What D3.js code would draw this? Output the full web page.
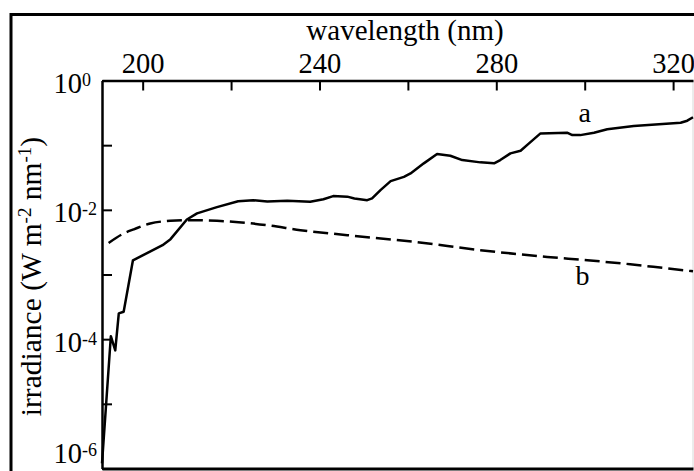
<!DOCTYPE html>
<html><head><meta charset="utf-8">
<script src="https://cdn.jsdelivr.net/npm/d3@7"></script>
<style>
body{margin:0;background:#fff}
svg{display:block}
text{font-family:"Liberation Serif","Times New Roman",serif;fill:#000}
</style>
</head><body>
<svg id="c" width="694" height="471"></svg>
<script>
// ---- data ----
const curveAWavelength = [190.8,192.8,193.8,194.6,195.7,197.8,201.1,204.5,206.3,210.0,212.3,216.8,221.6,225.0,228.2,232.7,237.9,240.9,243.1,246.3,247.9,250.8,251.9,253.8,256.1,259.1,260.6,263.6,266.6,269.6,272.3,276.4,279.5,280.9,283.2,285.5,287.4,290.0,296.0,297.2,299.0,302.1,305.1,311.1,321.7,323.2,324.5];
const curveAIrradiance = [1.2e-6,1.11e-4,6.7e-5,2.5e-4,2.65e-4,1.66e-3,2.16e-3,2.84e-3,3.52e-3,7.1e-3,8.8e-3,0.0110,0.0136,0.0141,0.0134,0.0138,0.0133,0.0146,0.0163,0.0160,0.0150,0.0141,0.0150,0.0202,0.0278,0.0324,0.0366,0.0523,0.0728,0.0686,0.0588,0.0542,0.0523,0.0588,0.0746,0.0819,0.1067,0.152,0.156,0.143,0.143,0.156,0.176,0.198,0.222,0.239,0.27];
const curveBWavelength = [192.3,195.7,198.0,201.7,206.3,210.8,216.8,221.7,228.1,235.7,246.3,261.4,276.4,291.5,300.6,310.3,317.9,324.5];
const curveBIrradiance = [3.08e-3,4.31e-3,5.0e-3,6.15e-3,6.76e-3,6.93e-3,6.76e-3,6.45e-3,5.79e-3,4.85e-3,4.06e-3,3.2e-3,2.38e-3,1.87e-3,1.66e-3,1.44e-3,1.26e-3,1.12e-3];
const xTickValues = [200,220,240,260,280,300,320];
const xTickLabels = ["200","","240","","280","","320"];
const yTickValues = [1,1e-1,1e-2,1e-3,1e-4,1e-5,1e-6];
const yTickExponents = ["0","","-2","","-4","","-6"];
const xTitle = "wavelength (nm)";
const curveLabels = ["a","b"];

// ---- layout ----
const L = 102, R = 693, T = 80.5, B = 468.5;
const svg = d3.select("#c");

const x = d3.scaleLinear().domain([190.8, 324.5]).range([L, R]);
const y = d3.scaleLog().domain([1e-6, 1]).range([B, T]);

// outer frame
svg.append("rect").attr("x", 11).attr("y", 14.5).attr("width", 800).attr("height", 600)
  .attr("fill", "none").attr("stroke", "#000").attr("stroke-width", 3);

// right faint edge
svg.append("line").attr("x1", R).attr("x2", R).attr("y1", T).attr("y2", B)
  .attr("stroke", "#d8d8d8").attr("stroke-width", 1);

// top axis
const xAxis = d3.axisTop(x).tickValues(xTickValues)
  .tickFormat((d, i) => xTickLabels[i]).tickSize(-10).tickSizeOuter(0).tickPadding(7.5);
const gx = svg.append("g").attr("transform", `translate(0,${T})`).call(xAxis);
gx.select(".domain").attr("stroke-width", 2.5);
gx.selectAll(".tick line").attr("stroke-width", 2);
gx.selectAll("text").attr("font-size", 28.5).attr("font-family", '"Liberation Serif",serif').attr("fill", "#000");

// bottom axis line
const gb = svg.append("g").attr("transform", `translate(0,${B})`)
  .call(d3.axisBottom(x).tickValues([]).tickSizeOuter(0));
gb.select(".domain").attr("stroke-width", 3);

// left axis
const yAxis = d3.axisLeft(y).tickValues(yTickValues).tickFormat("").tickSize(-10).tickSizeOuter(0);
const gy = svg.append("g").attr("transform", `translate(${L},0)`).call(yAxis);
gy.select(".domain").attr("stroke-width", 2.5);
gy.selectAll(".tick line").attr("stroke-width", 2);
gy.selectAll(".tick").each(function(d, i) {
  const exp = yTickExponents[i];
  if (!exp) return;
  const g = d3.select(this);
  const dy = (i === yTickValues.length - 1) ? -6 : 12;
  g.append("text").attr("x", -20).attr("y", dy).attr("text-anchor", "end")
    .attr("font-size", 28.5).text("10");
  g.append("text").attr("x", -20).attr("y", dy - 7).attr("text-anchor", "start")
    .attr("font-size", 18).text(exp);
});

// axis titles
svg.append("text").attr("x", 405).attr("y", 40).attr("text-anchor", "middle")
  .attr("font-size", 29).text(xTitle);

const yt = svg.append("text").attr("transform", `translate(41,${(T + B) / 2 + 2}) rotate(-90)`)
  .attr("text-anchor", "middle").attr("font-size", 29.5);
yt.append("tspan").text("irradiance (W m");
yt.append("tspan").attr("font-size", 19).attr("dy", -10).text("-2");
yt.append("tspan").attr("dy", 10).text(" nm");
yt.append("tspan").attr("font-size", 19).attr("dy", -10).text("-1");
yt.append("tspan").attr("dy", 10).text(")");

// curves
const dataA = curveAWavelength.map((w, i) => ({w, v: curveAIrradiance[i]}));
const dataB = curveBWavelength.map((w, i) => ({w, v: curveBIrradiance[i]}));

svg.append("path").datum(dataA)
  .attr("fill", "none").attr("stroke", "#000").attr("stroke-width", 2.5)
  .attr("stroke-linejoin", "round")
  .attr("d", d3.line().x(d => x(d.w)).y(d => y(d.v)));

svg.append("path").datum(dataB)
  .attr("fill", "none").attr("stroke", "#000").attr("stroke-width", 2.5)
  .attr("stroke-dasharray", "15,6")
  .attr("d", d3.line().curve(d3.curveMonotoneX).x(d => x(d.w)).y(d => y(d.v)));

// curve labels
svg.append("text").attr("x", x(300)).attr("y", y(0.228)).attr("text-anchor", "middle")
  .attr("font-size", 28).text(curveLabels[0]);
svg.append("text").attr("x", x(299.5)).attr("y", y(6.8e-4)).attr("text-anchor", "middle")
  .attr("font-size", 28).text(curveLabels[1]);
</script>
</body></html>
